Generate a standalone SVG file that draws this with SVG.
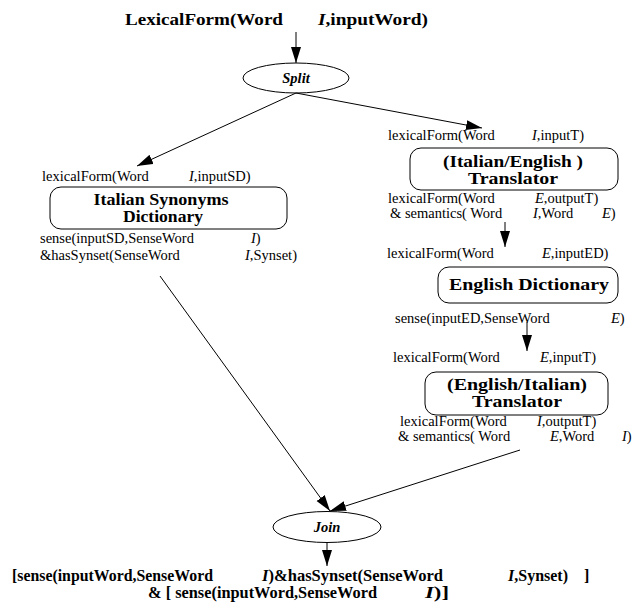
<svg xmlns="http://www.w3.org/2000/svg" width="632" height="603" viewBox="0 0 632 603">
<defs>
<marker id="ahl" viewBox="0 0 16 10" refX="16" refY="5" markerWidth="16" markerHeight="11" markerUnits="userSpaceOnUse" orient="auto">
<path d="M0,0 L16,5 L0,10 z" fill="#000"/>
</marker>
</defs>
<style>
text{font-family:"Liberation Serif","Times New Roman",serif;fill:#000}
.lb{font-size:14.5px}
.bx{font-size:16px;font-weight:bold;text-anchor:middle}
.bt{font-size:16px;font-weight:bold}
.it{font-style:italic}
.node{fill:#fff;stroke:#000;stroke-width:1}
.edge{stroke:#000;stroke-width:1;fill:none;marker-end:url(#ahl)}
</style>
<rect width="632" height="603" fill="#fff"/>

<g id="input">
<text class="bt" x="125" y="25" font-size="17" textLength="158" lengthAdjust="spacingAndGlyphs">LexicalForm(Word</text>
<text class="bt" x="318" y="25" font-size="17" textLength="110" lengthAdjust="spacingAndGlyphs"><tspan class="it">I</tspan>,inputWord)</text>
</g>

<g id="split">
<ellipse class="node" cx="296" cy="78" rx="53" ry="15"/>
<text x="296" y="83" font-size="14.5" font-weight="bold" font-style="italic" text-anchor="middle">Split</text>
</g>

<g id="isd">
<text class="lb" x="42" y="181">lexicalForm(Word</text>
<text class="lb" x="189" y="181"><tspan class="it">I</tspan>,inputSD)</text>
<rect class="node" x="50" y="187" width="237" height="42" rx="11"/>
<text class="bx" x="161" y="205" textLength="135" lengthAdjust="spacingAndGlyphs">Italian Synonyms</text>
<text class="bx" x="163" y="222" textLength="80" lengthAdjust="spacingAndGlyphs">Dictionary</text>
<text class="lb" x="40" y="243">sense(inputSD,SenseWord</text>
<text class="lb" x="251" y="243"><tspan class="it">I</tspan>)</text>
<text class="lb" x="40" y="260">&amp;hasSynset(SenseWord</text>
<text class="lb" x="245" y="260"><tspan class="it">I</tspan>,Synset)</text>
</g>

<g id="ietrans">
<text class="lb" x="388" y="140">lexicalForm(Word</text>
<text class="lb" x="532" y="140"><tspan class="it">I</tspan>,inputT)</text>
<rect class="node" x="410" y="148" width="208" height="42" rx="11"/>
<text class="bx" x="513" y="167" textLength="140" lengthAdjust="spacingAndGlyphs">(Italian/English )</text>
<text class="bx" x="513" y="184" textLength="90" lengthAdjust="spacingAndGlyphs">Translator</text>
<text class="lb" x="388" y="203">lexicalForm(Word</text>
<text class="lb" x="535" y="203"><tspan class="it">E</tspan>,outputT)</text>
<text class="lb" x="390" y="218">&amp; semantics( Word</text>
<text class="lb" x="533" y="218"><tspan class="it">I</tspan>,Word</text>
<text class="lb" x="602" y="218"><tspan class="it">E</tspan>)</text>
</g>

<g id="edict">
<text class="lb" x="387" y="258">lexicalForm(Word</text>
<text class="lb" x="542" y="258"><tspan class="it">E</tspan>,inputED)</text>
<rect class="node" x="438" y="267" width="180" height="36" rx="11"/>
<text class="bx" x="529" y="290" textLength="160" lengthAdjust="spacingAndGlyphs">English Dictionary</text>
<text class="lb" x="395" y="323">sense(inputED,SenseWord</text>
<text class="lb" x="611" y="323"><tspan class="it">E</tspan>)</text>
</g>

<g id="eitrans">
<text class="lb" x="393" y="362">lexicalForm(Word</text>
<text class="lb" x="540" y="362"><tspan class="it">E</tspan>,inputT)</text>
<rect class="node" x="425" y="372" width="183" height="43" rx="11"/>
<text class="bx" x="517" y="390" textLength="140" lengthAdjust="spacingAndGlyphs">(English/Italian)</text>
<text class="bx" x="517" y="407" textLength="90" lengthAdjust="spacingAndGlyphs">Translator</text>
<text class="lb" x="400" y="426">lexicalForm(Word</text>
<text class="lb" x="537" y="426"><tspan class="it">I</tspan>,outputT)</text>
<text class="lb" x="398" y="441">&amp; semantics( Word</text>
<text class="lb" x="550" y="441"><tspan class="it">E</tspan>,Word</text>
<text class="lb" x="622" y="441"><tspan class="it">I</tspan>)</text>
</g>

<g id="join">
<ellipse class="node" cx="327" cy="527" rx="54" ry="15.5"/>
<text x="327" y="532" font-size="14.5" font-weight="bold" font-style="italic" text-anchor="middle">Join</text>
</g>

<g id="output">
<text class="bt" x="12" y="581" textLength="201" lengthAdjust="spacingAndGlyphs">[sense(inputWord,SenseWord</text>
<text class="bt" x="262" y="581" textLength="181" lengthAdjust="spacingAndGlyphs"><tspan class="it">I</tspan>)&amp;hasSynset(SenseWord</text>
<text class="bt" x="508" y="581"><tspan class="it">I</tspan>,Synset)</text>
<text class="bt" x="584" y="581">]</text>
<text class="bt" x="148" y="598" textLength="229" lengthAdjust="spacingAndGlyphs">&amp; [ sense(inputWord,SenseWord</text>
<text class="bt" x="425" y="598" textLength="24" lengthAdjust="spacingAndGlyphs"><tspan class="it">I</tspan>)]</text>
</g>

<g id="connectors">
<line class="edge" x1="296" y1="32" x2="296" y2="63"/>
<line class="edge" x1="296" y1="93" x2="137" y2="166"/>
<line class="edge" x1="296" y1="93" x2="482" y2="128"/>
<line class="edge" x1="505" y1="222" x2="505" y2="247"/>
<line class="edge" x1="527" y1="322" x2="527" y2="351"/>
<line class="edge" x1="160" y1="276" x2="330" y2="511"/>
<line class="edge" x1="520" y1="450" x2="330" y2="511"/>
<line class="edge" x1="327" y1="543" x2="327" y2="566"/>
</g>
</svg>
